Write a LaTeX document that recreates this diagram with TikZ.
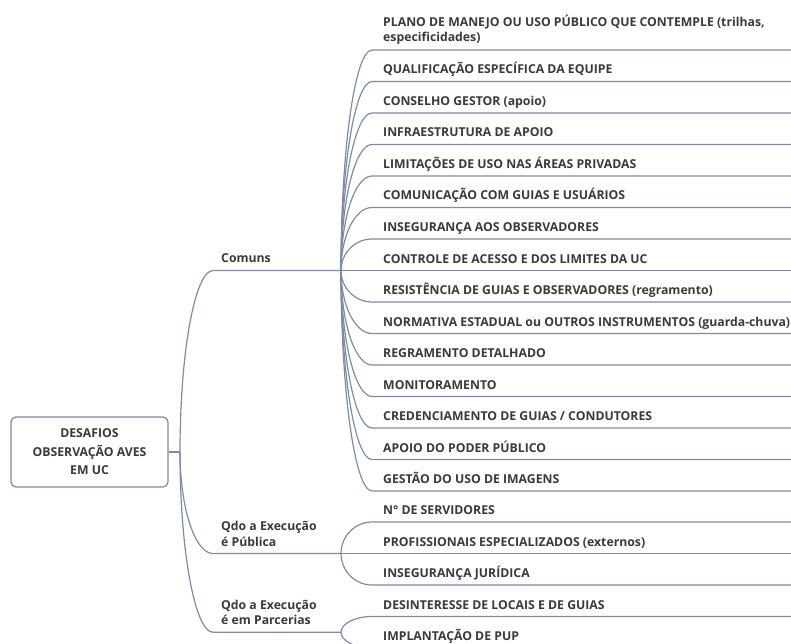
\documentclass[tikz,border=0pt]{standalone}
\usepackage{fontspec}
\IfFontExistsTF{Open Sans SemiBold}{\setmainfont{Open Sans SemiBold}}{\setmainfont{Open Sans}[UprightFont=* Bold]}
\usetikzlibrary{calc}
\definecolor{ln}{HTML}{7D8CA3}
\definecolor{tx}{HTML}{3A3A3A}
\tikzset{
 conn/.style={draw=ln, line width=1.2pt},
 lbl/.style={anchor=base west, inner sep=0pt, text=tx, font=\fontsize{12.25}{15.5}\selectfont, align=left},
 rootbox/.style={draw=ln, line width=1.2pt, rounded corners=5pt, fill=white, minimum width=157pt, minimum height=70pt, inner sep=0pt, text=tx, font=\fontsize{12.25}{18.5}\selectfont, align=center},
}
% name, hub, hubY, y, text
\newcommand\leafat[5]{%
  \node[lbl] (#1) at (383,#4-7.5) {#5};
  \coordinate (#1s) at (372,#4);
  \coordinate (#1e) at (800,#4);
  \pgfmathsetmacro\cy{0.552*((#4)-(#3))}
  \draw[conn] (#2) .. controls +(0,\cy) and +(-17,0) .. (#1s) -- (#1e);
}
\begin{document}
\begin{tikzpicture}[x=1pt,y=-1pt]
\useasboundingbox (0,0) rectangle (791,644);
\clip (0,0) rectangle (791,644);
% root
\node[rootbox] (root) at (89.5,452) {DESAFIOS\\OBSERVAÇÃO AVES\\EM UC};
\coordinate (rh) at (180,452);
\draw[conn] (root.east) -- (rh);
% hubs
\coordinate (hC) at (341,270.5);
\coordinate (hP) at (341,553.5);
\coordinate (hR) at (341,632.25);
\coordinate (bC) at (213,270.5);
\coordinate (bP) at (213,553.5);
\coordinate (bR) at (213,632.25);
\pgfmathsetmacro\ca{0.552*(270.5-452)}
\pgfmathsetmacro\cb{0.552*(553.5-452)}
\pgfmathsetmacro\cc{0.552*(632.25-452)}
\draw[conn] (rh) .. controls +(0,\ca) and +(-18,0) .. (bC) -- (hC);
\draw[conn] (rh) .. controls +(0,\cb) and +(-18,0) .. (bP) -- (hP);
\draw[conn] (rh) .. controls +(0,\cc) and +(-18,0) .. (bR) -- (hR);
% branch labels
\node[lbl] (comuns) at (221,262.5) {Comuns};
\node[lbl] (publica) at (221,546) {Qdo a Execução\\é Pública};
\node[lbl] (parcerias) at (221,624.5) {Qdo a Execução\\é em Parcerias};
% Comuns leaves
\node[lbl] (l1) at (383,42) {PLANO DE MANEJO OU USO PÚBLICO QUE CONTEMPLE (trilhas,\\especificidades)};
\coordinate (l1s) at (372,50);
\coordinate (l1e) at (800,50);
\pgfmathsetmacro\cy{0.552*(50-270.5)}
\draw[conn] (hC) .. controls +(0,\cy) and +(-17,0) .. (l1s) -- (l1e);
\leafat{l2}{hC}{270.5}{81.5}{QUALIFICAÇÃO ESPECÍFICA DA EQUIPE}
\leafat{l3}{hC}{270.5}{113}{CONSELHO GESTOR (apoio)}
\leafat{l4}{hC}{270.5}{144.5}{INFRAESTRUTURA DE APOIO}
\leafat{l5}{hC}{270.5}{176}{LIMITAÇÕES DE USO NAS ÁREAS PRIVADAS}
\leafat{l6}{hC}{270.5}{207.5}{COMUNICAÇÃO COM GUIAS E USUÁRIOS}
\leafat{l7}{hC}{270.5}{239}{INSEGURANÇA AOS OBSERVADORES}
\leafat{l8}{hC}{270.5}{270.5}{CONTROLE DE ACESSO E DOS LIMITES DA UC}
\leafat{l9}{hC}{270.5}{302}{RESISTÊNCIA DE GUIAS E OBSERVADORES (regramento)}
\leafat{l10}{hC}{270.5}{333.5}{NORMATIVA ESTADUAL ou OUTROS INSTRUMENTOS (guarda-chuva)}
\leafat{l11}{hC}{270.5}{365}{REGRAMENTO DETALHADO}
\leafat{l12}{hC}{270.5}{396.5}{MONITORAMENTO}
\leafat{l13}{hC}{270.5}{428}{CREDENCIAMENTO DE GUIAS / CONDUTORES}
\leafat{l14}{hC}{270.5}{459.5}{APOIO DO PODER PÚBLICO}
\leafat{l15}{hC}{270.5}{491}{GESTÃO DO USO DE IMAGENS}
% Publica leaves
\leafat{p1}{hP}{553.5}{522}{N° DE SERVIDORES}
\leafat{p2}{hP}{553.5}{553.5}{PROFISSIONAIS ESPECIALIZADOS (externos)}
\leafat{p3}{hP}{553.5}{585}{INSEGURANÇA JURÍDICA}
% Parcerias leaves
\leafat{r1}{hR}{632.25}{616.5}{DESINTERESSE DE LOCAIS E DE GUIAS}
\leafat{r2}{hR}{632.25}{648}{IMPLANTAÇÃO DE PUP}
\end{tikzpicture}
\end{document}
